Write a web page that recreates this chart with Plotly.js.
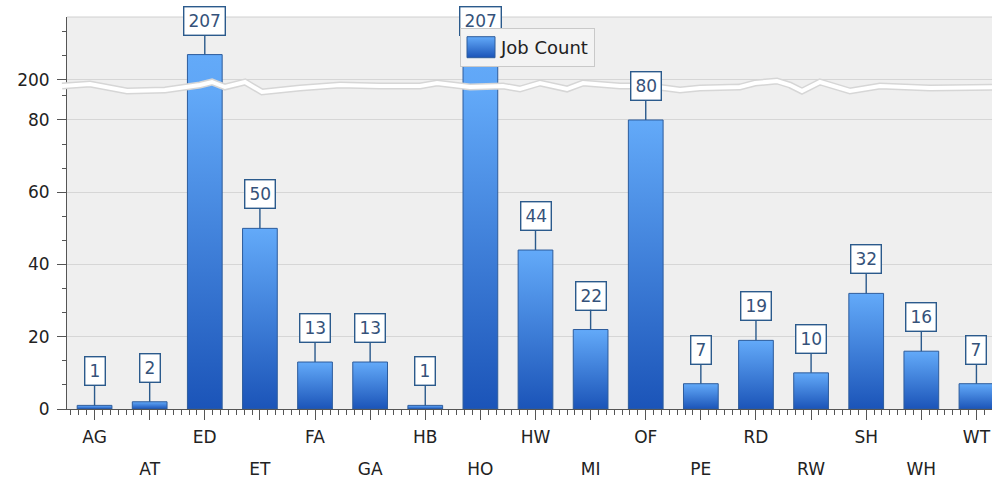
<!DOCTYPE html>
<html>
<head>
<meta charset="utf-8">
<script src="https://cdn.plot.ly/plotly-3.0.1.min.js"></script>
<style>
html, body { margin: 0; padding: 0; overflow: hidden; background: #ffffff; }
#chart { width: 1010px; height: 481px; }
</style>
</head>
<body>
<div id="chart"></div>
<script>
// ---- data ----
const categories = ['AG','AT','ED','ET','FA','GA','HB','HO','HW','MI','OF','PE','RD','RW','SH','WH','WT'];
const jobCount = [1, 2, 207, 50, 13, 13, 1, 207, 44, 22, 80, 7, 19, 10, 32, 16, 7];
const seriesName = 'Job Count';
const lowerTicks = [0, 20, 40, 60, 80];
const upperTicks = [200];

// ---- derived ----
const idx = categories.map((c, i) => i);
const oddIdx = idx.filter(i => i % 2 === 1);

const LOWER_RANGE = [0, 88.3];
const UPPER_RANGE = [197.2, 217.4];
const SPLIT = 0.8138;

const FONT = 'DejaVu Sans, Verdana, sans-serif';
const barLine = { color: '#2d5c9c', width: 1 };

const traces = [
  {
    type: 'bar', name: seriesName, x: idx, y: jobCount, xaxis: 'x', yaxis: 'y',
    width: 0.63, marker: { color: '#3d7fe0', line: barLine }, showlegend: true,
    hoverinfo: 'skip'
  },
  {
    type: 'bar', name: seriesName, x: idx, y: jobCount, xaxis: 'x', yaxis: 'y2',
    width: 0.63, marker: { color: '#3d7fe0', line: barLine }, showlegend: false,
    hoverinfo: 'skip'
  },
  {
    // invisible helper so the second (staggered-label) x axis is drawn
    type: 'scatter', mode: 'markers', x: oddIdx, y: oddIdx.map(i => jobCount[i]),
    xaxis: 'x2', yaxis: 'y', marker: { opacity: 0, size: 1 }, showlegend: false, hoverinfo: 'skip'
  }
];

// value labels (callout boxes)
const annotations = jobCount.map((v, i) => {
  const upper = v > LOWER_RANGE[1];
  return {
    x: i, y: v, xref: 'x', yref: upper ? 'y2' : 'y',
    text: String(v), showarrow: true, arrowhead: 0, arrowwidth: 1.4, arrowcolor: '#2b5a8c',
    ax: 0, ay: -34, standoff: 0,
    bgcolor: '#ffffff', bordercolor: '#2b5a8c', borderwidth: 1.4, borderpad: 4,
    height: 19,
    font: { family: FONT, size: 17, color: '#35527a' }
  };
});

// break decoration (wavy band), pixel positions converted to paper units
const PL = 67, PW = 937, PB = 409, PH = 392;
const wavePts = [
  [62,86],[90,84],[127,91],[165,90],[200,85],[212,82],[225,87],[245,82],[262,92],[300,88],
  [340,85],[380,86],[420,86],[437,83],[470,87],[503,86],[520,89],[540,83],[567,89],[583,83],
  [620,86],[650,86],[680,90],[700,88],[740,87],[755,83],[777,81],[790,85],[802,91],[820,82],
  [850,91],[880,86],[930,88],[1010,87]
];
const wavePath = wavePts.map((p, k) => (k ? 'L' : 'M') + ((p[0] - PL) / PW).toFixed(4) + ',' + ((PB - p[1]) / PH).toFixed(4)).join(' ');

const shapes = [
  { type: 'line', xref: 'paper', yref: 'paper', x0: 0, x1: 1.02, y0: 1, y1: 1, line: { color: '#d0d0d0', width: 1 }, layer: 'below' },
  { type: 'path', xref: 'paper', yref: 'paper', path: wavePath, line: { color: '#d6d6d6', width: 7 }, layer: 'above' },
  { type: 'path', xref: 'paper', yref: 'paper', path: wavePath, line: { color: '#ffffff', width: 4 }, layer: 'above' }
];

const tickFont = { family: FONT, size: 17, color: '#222222' };

const layout = {
  width: 1010, height: 481,
  margin: { l: PL, r: 1010 - PL - PW, t: 17, b: 481 - 17 - PH, pad: 0 },
  paper_bgcolor: '#ffffff', plot_bgcolor: '#efefef',
  font: { family: FONT, size: 17, color: '#333333' },
  showlegend: true,
  legend: {
    x: (460 - PL) / PW, y: (PB - 28) / PH, xanchor: 'left', yanchor: 'top',
    bgcolor: '#f3f3f3', bordercolor: '#c9c9c9', borderwidth: 1,
    font: { family: FONT, size: 18, color: '#222222' }
  },
  xaxis: {
    type: 'linear', range: [-0.5, 16.5], anchor: 'y',
    tickmode: 'array', tickvals: idx,
    ticktext: categories.map((c, i) => (i % 2 === 0 ? c : '')),
    ticks: 'outside', ticklen: 10, tickwidth: 1, tickcolor: '#555555',
    minor: { tickmode: 'linear', tick0: 0, dtick: 1 / 7, ticks: 'outside', ticklen: 5, tickcolor: '#555555', showgrid: false },
    showline: true, linecolor: '#555555', linewidth: 1,
    showgrid: false, zeroline: false, ticklabelstandoff: 3,
    tickfont: tickFont
  },
  xaxis2: {
    type: 'linear', range: [-0.5, 16.5], overlaying: 'x', anchor: 'y', side: 'bottom',
    tickmode: 'array', tickvals: oddIdx, ticktext: oddIdx.map(i => categories[i]),
    ticks: '', showline: false, showgrid: false, zeroline: false,
    ticklabelstandoff: 48,
    tickfont: tickFont
  },
  yaxis: {
    domain: [0, SPLIT], range: LOWER_RANGE, anchor: 'x',
    tickmode: 'array', tickvals: lowerTicks, ticktext: lowerTicks.map(String),
    ticks: 'outside', ticklen: 9, tickcolor: '#555555',
    minor: { tickmode: 'linear', tick0: 0, dtick: 20 / 3, ticks: 'outside', ticklen: 4, tickcolor: '#555555', showgrid: false },
    showline: true, linecolor: '#555555', linewidth: 1,
    showgrid: true, gridcolor: '#d6d6d6', gridwidth: 1, zeroline: false,
    ticklabelstandoff: 4,
    tickfont: tickFont
  },
  yaxis2: {
    domain: [SPLIT, 1], range: UPPER_RANGE, anchor: 'x',
    tickmode: 'array', tickvals: upperTicks, ticktext: upperTicks.map(String),
    ticks: 'outside', ticklen: 9, tickcolor: '#555555',
    minor: { tickmode: 'linear', tick0: 200, dtick: 20 / 3, ticks: 'outside', ticklen: 4, tickcolor: '#555555', showgrid: false },
    showline: true, linecolor: '#555555', linewidth: 1,
    showgrid: true, gridcolor: '#d6d6d6', gridwidth: 1, zeroline: false,
    ticklabelstandoff: 4,
    tickfont: tickFont
  },
  annotations: annotations,
  shapes: shapes
};

Plotly.newPlot('chart', traces, layout, { displayModeBar: false, staticPlot: true }).then(gd => {
  const svg = gd.querySelector('.main-svg');
  const defs = svg.querySelector('defs');
  const NS = 'http://www.w3.org/2000/svg';
  const grad = document.createElementNS(NS, 'linearGradient');
  grad.setAttribute('id', 'barGrad');
  grad.setAttribute('x1', '0'); grad.setAttribute('y1', '0');
  grad.setAttribute('x2', '0'); grad.setAttribute('y2', '1');
  [['0%', '#63aaf9'], ['100%', '#1b54b8']].forEach(s => {
    const st = document.createElementNS(NS, 'stop');
    st.setAttribute('offset', s[0]); st.setAttribute('stop-color', s[1]);
    grad.appendChild(st);
  });
  defs.appendChild(grad);

  // clamp lower-subplot bar paths to the visible area so the gradient spans the visible bar
  const yLen = gd._fullLayout.yaxis._length;
  const clamp = v => Math.max(-2, Math.min(yLen + 2, parseFloat(v)));
  gd.querySelectorAll('.subplot.xy .barlayer .point path').forEach(p => {
    const d = p.getAttribute('d');
    const nd = d.replace(/V(-?[\d.]+)/g, (m, v) => 'V' + clamp(v))
                .replace(/^M(-?[\d.]+),(-?[\d.]+)/, (m, a, b) => 'M' + a + ',' + clamp(b));
    p.setAttribute('d', nd);
  });
  gd.querySelectorAll('.barlayer .point path').forEach(p => { p.style.fill = 'url(#barGrad)'; });

  // legend swatch
  gd.querySelectorAll('.legend .legendpoints path').forEach(p => {
    p.setAttribute('d', 'M-14,-10.5H14V10.5H-14Z');
    p.style.fill = 'url(#barGrad)';
  });
  // legend above annotations
  const leg = gd.querySelector('.legend');
  if (leg && leg.parentNode) leg.parentNode.appendChild(leg);
});
</script>
</body>
</html>
